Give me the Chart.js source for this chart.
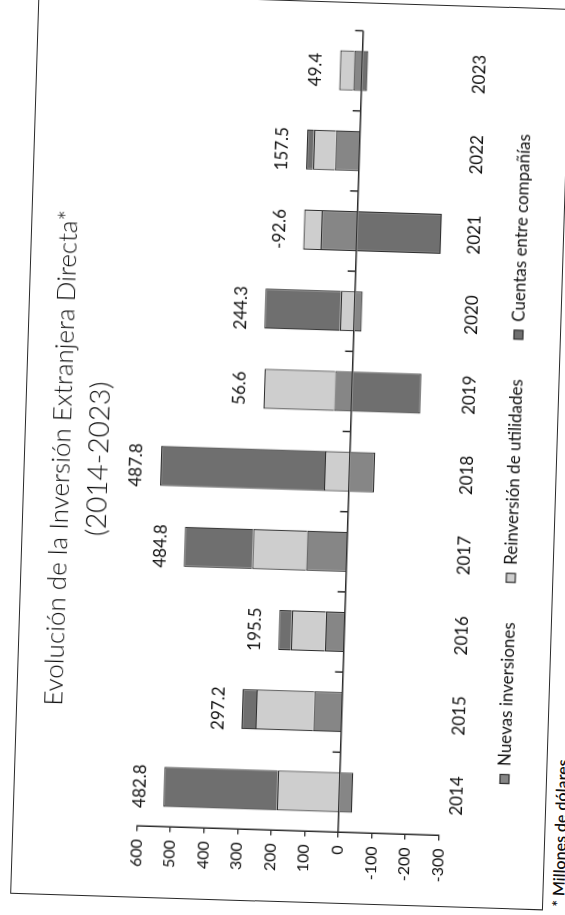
<!DOCTYPE html>
<html>
<head>
<meta charset="utf-8">
<script src="https://cdn.jsdelivr.net/npm/chart.js@4.4.1/dist/chart.umd.min.js"></script>
<style>
  html, body { margin: 0; padding: 0; background: #fff; }
  body { width: 565px; height: 915px; overflow: hidden; position: relative; }
  /* the printed page was scanned sideways and slightly skewed */
  #frame { position: absolute; left: -175px; top: 175px; width: 915px; height: 565px;
           transform: rotate(-88.2deg); transform-origin: 50% 50%; }
  #box { position: absolute; left: 13px; top: 24px; width: 902px; height: 533px;
         box-sizing: border-box; border: 1.5px solid #2a2a2a; background: #fff; }
  #note { position: absolute; left: 17px; top: 562px; font: 600 16px Lato, sans-serif;
          color: #111; white-space: nowrap; }
</style>
</head>
<body>
<div id="frame">
  <div id="box"><canvas id="iedChart" width="899" height="530"></canvas></div>
  <div id="note">* Millones de dólares</div>
</div>
<script>
const years = ['2014', '2015', '2016', '2017', '2018', '2019', '2020', '2021', '2022', '2023'];
const nuevasInversiones = [-40.2, 84, 57, 120, -75, 52, -23, 107, 72, 25];
const reinversionUtilidades = [185, 172, 101, 161, 74, 210, 41.7, 52, 65.5, 41.4];
const cuentasCompanias = [338, 41.2, 37.5, 203.8, 488.8, -205.4, 225.6, -251.6, 20, -17];
const totales = [482.8, 297.2, 195.5, 484.8, 487.8, 56.6, 244.3, -92.6, 157.5, 49.4];
const yMin = -300, yMax = 600, yStep = 100;

const ink = '#111';
const font = 'Lato, "Open Sans", sans-serif';

// category axis sits at zero, with small ticks between years
const zeroAxis = {
    id: 'zeroAxis',
    beforeDatasetsDraw(chart) {
        const { ctx, scales: { x, y } } = chart;
        const y0 = y.getPixelForValue(0);
        ctx.save();
        ctx.strokeStyle = '#2a2a2a';
        ctx.lineWidth = 1.5;
        ctx.beginPath();
        ctx.moveTo(x.left, y0);
        ctx.lineTo(x.right, y0);
        for (let i = 1; i <= years.length; i++) {
            const px = i === years.length ? x.right
                : (x.getPixelForValue(i - 1) + x.getPixelForValue(i)) / 2;
            ctx.moveTo(px, y0);
            ctx.lineTo(px, y0 - 8);
        }
        ctx.stroke();
        ctx.restore();
    }
};

// totals written above the positive part of each stack
const totalLabels = {
    id: 'totalLabels',
    afterDatasetsDraw(chart) {
        const { ctx, scales: { x, y } } = chart;
        ctx.save();
        ctx.font = '17px ' + font;
        ctx.fillStyle = ink;
        ctx.textAlign = 'center';
        ctx.textBaseline = 'middle';
        years.forEach((yr, i) => {
            const top = [nuevasInversiones, reinversionUtilidades, cuentasCompanias]
                .reduce((s, arr) => s + Math.max(arr[i], 0), 0);
            ctx.fillText(totales[i].toFixed(1), x.getPixelForValue(i), y.getPixelForValue(top) - 24);
        });
        ctx.restore();
    }
};

// legend row under the year labels, spaced like the original
const legendRow = {
    id: 'legendRow',
    afterDraw(chart) {
        const { ctx, chartArea } = chart;
        const sets = chart.data.datasets;
        const box = 9, gap = 8.5, space = 40;
        ctx.save();
        ctx.font = '17px ' + font;
        const widths = sets.map(ds => box + gap + ctx.measureText(ds.label).width);
        const total = widths.reduce((a, b) => a + b, 0) + space * (sets.length - 1);
        let x = (chart.width - total) / 2;
        const y = chartArea.bottom + 64;
        ctx.textBaseline = 'middle';
        sets.forEach((ds, i) => {
            ctx.fillStyle = ds.backgroundColor;
            ctx.fillRect(x, y - box / 2, box, box);
            ctx.strokeStyle = ds.borderColor;
            ctx.lineWidth = 1.2;
            ctx.strokeRect(x, y - box / 2, box, box);
            ctx.fillStyle = ink;
            ctx.fillText(ds.label, x + box + gap, y);
            x += widths[i] + space;
        });
        ctx.restore();
    }
};

const ctx = document.getElementById('iedChart').getContext('2d');

new Chart(ctx, {
    type: 'bar',
    data: {
        labels: years,
        datasets: [{
            label: 'Nuevas inversiones',
            data: nuevasInversiones,
            backgroundColor: '#868686',
            borderColor: '#2e2e2e',
            borderWidth: 1.2
        },
        {
            label: 'Reinversión de utilidades',
            data: reinversionUtilidades,
            backgroundColor: '#cecece',
            borderColor: '#2e2e2e',
            borderWidth: 1.2
        },
        {
            label: 'Cuentas entre compañías',
            data: cuentasCompanias,
            backgroundColor: '#6f6f6f',
            borderColor: '#2e2e2e',
            borderWidth: 1.2
        }]
    },
    options: {
        responsive: false,
        animation: false,
        layout: { padding: { top: 0, right: 26.5, bottom: 64.5, left: 0 } },
        datasets: { bar: { categoryPercentage: 1, barPercentage: 0.5 } },
        scales: {
            x: {
                stacked: true,
                grid: { display: false, drawTicks: false },
                border: { display: false },
                ticks: { color: ink, font: { family: font, size: 17 }, padding: 7 },
                afterFit: (s) => { s.height = 40; }
            },
            y: {
                stacked: true,
                min: yMin,
                max: yMax,
                grid: { drawOnChartArea: false, tickLength: 5, color: '#2a2a2a', lineWidth: 1.3 },
                border: { color: '#2a2a2a', width: 1.5 },
                ticks: { stepSize: yStep, color: ink, font: { family: font, size: 16 }, padding: 8 },
                afterFit: (s) => { s.width = 70.5; }
            }
        },
        plugins: {
            title: {
                display: true,
                text: 'Evolución de la Inversión Extranjera Directa*',
                color: ink,
                font: { family: font, size: 26, weight: 300 },
                padding: { top: 21, bottom: 0 }
            },
            subtitle: {
                display: true,
                text: '(2014-2023)',
                color: ink,
                font: { family: font, size: 28, weight: 300 },
                padding: { top: 4.5, bottom: 33.2 }
            },
            legend: { display: false },
            tooltip: { enabled: false }
        }
    },
    plugins: [zeroAxis, totalLabels, legendRow]
});
</script>
</body>
</html>
